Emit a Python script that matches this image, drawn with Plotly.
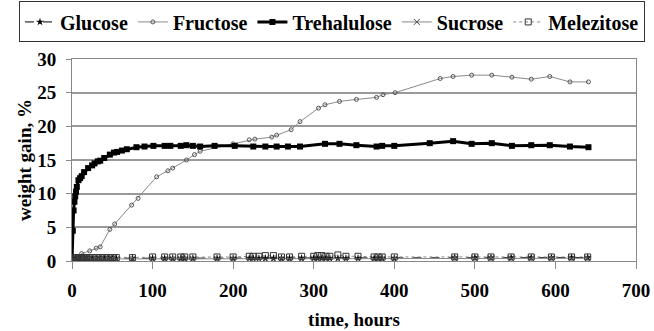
import plotly.graph_objects as go

# ---------------- data ----------------
tre_t = [0, 1, 2, 3, 4, 5, 6, 8, 10, 12, 15, 20, 25, 28, 32, 35, 40, 47, 52, 56, 62, 68, 80, 90, 101, 115, 122, 135, 142, 150, 159,
         177, 202, 225, 240, 254, 268, 283, 314, 332, 353, 378, 385, 400, 444, 473, 496, 521, 546, 570, 593, 618, 641]
tre_v = [0, 4.5, 7.5, 8.8, 9.6, 10.3, 11.0, 12.0, 12.3, 12.6, 13.2, 13.8, 14.2, 14.5, 14.8, 14.9, 15.3, 15.8, 16.1, 16.2, 16.4, 16.6, 16.9, 17.0, 17.1, 17.1, 17.1, 17.1, 17.2, 17.1, 17.0,
         17.1, 17.1, 17.0, 17.0, 17.0, 17.0, 17.0, 17.4, 17.4, 17.2, 17.0, 17.1, 17.1, 17.5, 17.8, 17.4, 17.5, 17.1, 17.2, 17.2, 17.0, 16.9]

fru_t = [0, 12, 22, 30, 35, 47, 53, 74, 82, 105, 119, 125, 142, 152, 159, 200, 220, 227, 248, 254, 272, 283, 306, 314,
         332, 353, 378, 386, 401, 457, 473, 496, 521, 546, 570, 593, 618, 641]
fru_v = [0, 1.1, 1.5, 1.9, 2.1, 4.7, 5.5, 8.3, 9.3, 12.5, 13.4, 13.8, 15.0, 15.8, 16.3, 17.4, 18.0, 18.1, 18.4, 18.7, 19.5, 20.7, 22.7, 23.2,
         23.7, 24.0, 24.3, 24.7, 25.0, 27.1, 27.4, 27.6, 27.6, 27.3, 27.0, 27.4, 26.6, 26.6]

low_t = [0, 2, 4, 6, 8, 10, 12, 15, 18, 20, 25, 30, 35, 40, 45, 50, 55, 75, 100, 115, 125, 135, 140, 150, 180, 200, 220, 225, 232,
         240, 250, 260, 270, 285, 300, 305, 310, 315, 320, 330, 340, 355, 375, 380, 385, 400,
         475, 500, 520, 545, 570, 595, 620, 640]
glu_v = [0, 0.4, 0.4, 0.4, 0.4, 0.4, 0.4, 0.4, 0.4, 0.4, 0.4, 0.4, 0.4, 0.4, 0.4, 0.4, 0.4, 0.4, 0.4, 0.4, 0.4, 0.4, 0.4, 0.4, 0.4, 0.4, 0.4, 0.4, 0.4,
         0.4, 0.4, 0.4, 0.4, 0.4, 0.4, 0.4, 0.4, 0.4, 0.4, 0.4, 0.4, 0.4, 0.4, 0.4, 0.4, 0.4,
         0.5, 0.5, 0.5, 0.5, 0.5, 0.5, 0.5, 0.5]
suc_v = [0, 0.3, 0.3, 0.3, 0.3, 0.3, 0.3, 0.3, 0.3, 0.3, 0.3, 0.3, 0.3, 0.3, 0.3, 0.3, 0.3, 0.3, 0.3, 0.3, 0.3, 0.3, 0.3, 0.3, 0.3, 0.3, 0.3, 0.3, 0.3,
         0.3, 0.3, 0.3, 0.3, 0.3, 0.3, 0.3, 0.3, 0.3, 0.3, 0.3, 0.3, 0.3, 0.3, 0.3, 0.3, 0.3,
         0.4, 0.4, 0.4, 0.4, 0.4, 0.4, 0.4, 0.4]
mel_v = [0, 0.5, 0.5, 0.5, 0.5, 0.5, 0.5, 0.5, 0.5, 0.5, 0.5, 0.5, 0.5, 0.5, 0.5, 0.5, 0.5, 0.5, 0.6, 0.6, 0.6, 0.6, 0.6, 0.6, 0.6, 0.6, 0.7, 0.7, 0.7,
         0.8, 0.8, 0.6, 0.6, 0.7, 0.7, 0.8, 0.8, 0.7, 0.7, 0.9, 0.7, 0.7, 0.6, 0.6, 0.6, 0.6,
         0.6, 0.6, 0.6, 0.6, 0.6, 0.6, 0.6, 0.6]

x_ticks = [0, 100, 200, 300, 400, 500, 600, 700]
y_ticks = [0, 5, 10, 15, 20, 25, 30]

FONT = "Liberation Serif"
BOLD = dict(family=FONT, size=19, color="black", weight="bold")
LEG = dict(family=FONT, size=20, color="black", weight="bold")

fig = go.Figure()
fig.add_trace(go.Scatter(x=low_t, y=glu_v, name="Glucose", mode="lines+markers",
                         line=dict(color="black", width=1, dash="dash"),
                         marker=dict(symbol="star", size=6, color="black")))
fig.add_trace(go.Scatter(x=fru_t, y=fru_v, name="Fructose", mode="lines+markers",
                         line=dict(color="#8a8a8a", width=1),
                         marker=dict(symbol="circle-open", size=4, color="#555555", line=dict(width=1))))
fig.add_trace(go.Scatter(x=tre_t, y=tre_v, name="Trehalulose", mode="lines+markers",
                         line=dict(color="black", width=3),
                         marker=dict(symbol="square", size=6, color="black")))
fig.add_trace(go.Scatter(x=low_t, y=suc_v, name="Sucrose", mode="lines+markers",
                         line=dict(color="#888888", width=1),
                         marker=dict(symbol="x-thin-open", size=6, color="#444444", line=dict(width=1, color="#444444"))))
fig.add_trace(go.Scatter(x=low_t, y=mel_v, name="Melezitose", mode="lines+markers",
                         line=dict(color="#888888", width=1, dash="dot"),
                         marker=dict(symbol="square-open", size=6, color="#333333", line=dict(width=1))))

fig.update_layout(
    width=654, height=331,
    margin=dict(l=72, r=18, t=59, b=70, autoexpand=False),
    paper_bgcolor="white", plot_bgcolor="white",
    font=BOLD,
    showlegend=True,
    legend=dict(orientation="h", x=-0.094, y=1.285, xanchor="left", yanchor="top",
                bordercolor="#333", borderwidth=1, font=LEG,
                tracegroupgap=0, itemwidth=30),
    xaxis=dict(range=[0, 700], tickvals=x_ticks, ticks="outside", ticklen=7, tickcolor="#888",
               showgrid=False, zeroline=False, showline=True, linecolor="#888", linewidth=1, mirror=True,
               automargin=False, tickfont=BOLD, ticklabelstandoff=5,
               title=dict(text="time, hours", font=BOLD, standoff=12)),
    yaxis=dict(range=[0, 30], tickvals=y_ticks, ticks="outside", ticklen=5, tickcolor="#888",
               showgrid=True, gridcolor="#999", gridwidth=1.5,
               zeroline=False, showline=True, linecolor="#888", linewidth=1, mirror=True,
               automargin=False, tickfont=BOLD, ticklabelstandoff=6,
               title=dict(text="weight gain, %", font=BOLD, standoff=0)),
)

fig.write_html("out.html", config={"displayModeBar": False},
               post_script="document.body.style.margin='0';")
